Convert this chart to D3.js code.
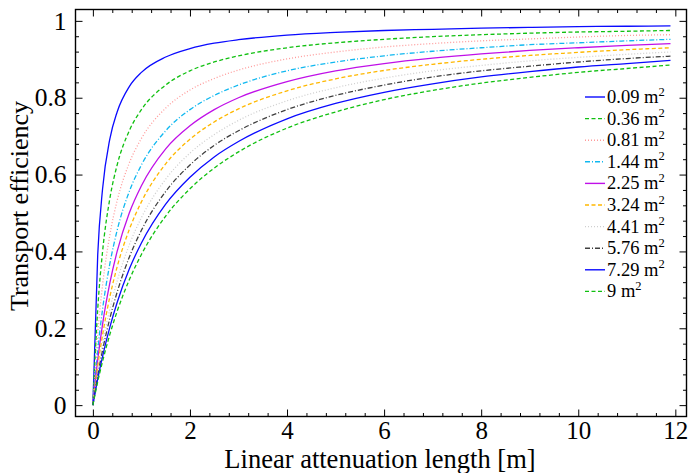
<!DOCTYPE html>
<html>
<head>
<meta charset="utf-8">
<script src="https://cdn.jsdelivr.net/npm/d3@7"></script>
<style>
  body { margin: 0; background: #fff; }
  svg { display: block; font-family: 'Liberation Serif', serif; }
</style>
</head>
<body>
<div id="chart"></div>
<script>
// attenuation lengths [m] (x) and detector areas [m^2]
const lengths = [0, 0.1, 0.2, 0.35, 0.5, 0.75, 1, 1.5, 2, 2.5, 3, 4, 5, 6, 7, 8, 9, 10, 11, 11.9];
const areas = ['0.09', '0.36', '0.81', '1.44', '2.25', '3.24', '4.41', '5.76', '7.29', '9'];

// transport efficiency, one array per area
const eff009 = [0, 0.392, 0.563, 0.693, 0.763, 0.829, 0.866, 0.906, 0.928, 0.942, 0.951, 0.963, 0.970, 0.975, 0.978, 0.981, 0.983, 0.985, 0.986, 0.987];
const eff036 = [0, 0.250, 0.400, 0.538, 0.625, 0.714, 0.769, 0.833, 0.870, 0.893, 0.909, 0.930, 0.943, 0.952, 0.959, 0.964, 0.968, 0.971, 0.973, 0.975];
const eff081 = [0, 0.185, 0.313, 0.443, 0.532, 0.630, 0.694, 0.773, 0.820, 0.850, 0.872, 0.901, 0.919, 0.932, 0.941, 0.948, 0.953, 0.958, 0.962, 0.964];
const eff144 = [0, 0.143, 0.250, 0.368, 0.455, 0.556, 0.625, 0.714, 0.769, 0.806, 0.833, 0.870, 0.893, 0.909, 0.921, 0.930, 0.938, 0.943, 0.948, 0.952];
const eff225 = [0, 0.118, 0.211, 0.318, 0.400, 0.500, 0.571, 0.667, 0.727, 0.769, 0.800, 0.842, 0.870, 0.889, 0.903, 0.914, 0.923, 0.930, 0.936, 0.941];
const eff324 = [0, 0.101, 0.183, 0.282, 0.360, 0.457, 0.529, 0.628, 0.692, 0.737, 0.771, 0.818, 0.849, 0.871, 0.887, 0.900, 0.910, 0.918, 0.925, 0.930];
const eff441 = [0, 0.087, 0.160, 0.250, 0.323, 0.417, 0.488, 0.588, 0.656, 0.704, 0.741, 0.792, 0.826, 0.851, 0.870, 0.884, 0.896, 0.905, 0.913, 0.919];
const eff576 = [0, 0.077, 0.143, 0.226, 0.294, 0.385, 0.455, 0.556, 0.625, 0.676, 0.714, 0.769, 0.806, 0.833, 0.854, 0.870, 0.882, 0.893, 0.902, 0.908];
const eff729 = [0, 0.068, 0.127, 0.203, 0.267, 0.354, 0.422, 0.523, 0.593, 0.646, 0.686, 0.745, 0.785, 0.814, 0.836, 0.854, 0.868, 0.880, 0.889, 0.897];
const eff900 = [0, 0.061, 0.114, 0.184, 0.244, 0.326, 0.392, 0.492, 0.563, 0.617, 0.659, 0.721, 0.763, 0.795, 0.819, 0.838, 0.853, 0.866, 0.876, 0.885];

const xTicks = [0, 2, 4, 6, 8, 10, 12];
const yTicks = [0, 0.2, 0.4, 0.6, 0.8, 1];

const series = [eff009, eff036, eff081, eff144, eff225, eff324, eff441, eff576, eff729, eff900];

// line styles, same order as areas
const colors = ['#0a0aff', '#10c010', '#ff9a9a', '#10b8f0', '#c010e8', '#ffb800', '#cfcfcf', '#404040', '#0a0aff', '#10c010'];
const dashes = ['none', '4,2.5', '1,2', '5,2,1,2', 'none', '4,2.5', '1,2', '5,2,1,2', 'none', '4,2.5'];

let width = 689;
let height = 473;
let frame = { left: 75.5, right: 686.5, top: 9.5, bottom: 416.5 };

let xScale = d3.scaleLinear().domain([-0.358, 12.23]).range([frame.left, frame.right]);
let yScale = d3.scaleLinear().domain([-0.0296, 1.0296]).range([frame.bottom, frame.top]);

let svg = d3.select('#chart').append('svg').attr('width', width).attr('height', height);

// curves
let line = d3.line()
  .x((d, i) => xScale(lengths[i]))
  .y((d) => yScale(d))
  .curve(d3.curveMonotoneX);

svg.append('g')
  .attr('id', 'curves')
  .selectAll('path')
  .data(series)
  .enter()
  .append('path')
  .attr('d', line)
  .attr('fill', 'none')
  .attr('stroke', (d, i) => colors[i])
  .attr('stroke-width', 1.3)
  .attr('stroke-dasharray', (d, i) => dashes[i]);

// axes, ticks pointing inwards on all four sides
let xMinor = d3.range(0, 12.01, 0.4).filter((v) => Math.abs(v / 2 - Math.round(v / 2)) > 0.01);
let yMinor = d3.range(0, 1.001, 0.04).filter((v) => Math.abs(v / 0.2 - Math.round(v / 0.2)) > 0.01);

function tickOnly(axis) {
  return (g) => {
    g.call(axis);
    g.select('.domain').remove();
    g.selectAll('line').attr('stroke', '#000').attr('stroke-width', 1);
  };
}

svg.append('g')
  .attr('transform', `translate(0, ${frame.bottom})`)
  .call(tickOnly(d3.axisBottom(xScale).tickValues(xTicks).tickSize(-7).tickPadding(5).tickFormat(d3.format('d'))))
  .call((g) => g.selectAll('text').attr('font-size', 25).attr('fill', '#000').attr('font-family', 'Liberation Serif'));
svg.append('g')
  .attr('transform', `translate(0, ${frame.bottom})`)
  .call(tickOnly(d3.axisBottom(xScale).tickValues(xMinor).tickSize(-3.5).tickFormat('')));
svg.append('g')
  .attr('transform', `translate(0, ${frame.top})`)
  .call(tickOnly(d3.axisTop(xScale).tickValues(xTicks).tickSize(-7).tickFormat('')));
svg.append('g')
  .attr('transform', `translate(0, ${frame.top})`)
  .call(tickOnly(d3.axisTop(xScale).tickValues(xMinor).tickSize(-3.5).tickFormat('')));

svg.append('g')
  .attr('transform', `translate(${frame.left}, 0)`)
  .call(tickOnly(d3.axisLeft(yScale).tickValues(yTicks).tickSize(-7).tickPadding(9).tickFormat((d) => (d === 0 || d === 1 ? d : d.toFixed(1)))))
  .call((g) => g.selectAll('text').attr('font-size', 25.5).attr('fill', '#000').attr('font-family', 'Liberation Serif'));
svg.append('g')
  .attr('transform', `translate(${frame.left}, 0)`)
  .call(tickOnly(d3.axisLeft(yScale).tickValues(yMinor).tickSize(-3.5).tickFormat('')));
svg.append('g')
  .attr('transform', `translate(${frame.right}, 0)`)
  .call(tickOnly(d3.axisRight(yScale).tickValues(yTicks).tickSize(-7).tickFormat('')));
svg.append('g')
  .attr('transform', `translate(${frame.right}, 0)`)
  .call(tickOnly(d3.axisRight(yScale).tickValues(yMinor).tickSize(-3.5).tickFormat('')));

// frame
svg.append('rect')
  .attr('x', frame.left)
  .attr('y', frame.top)
  .attr('width', frame.right - frame.left)
  .attr('height', frame.bottom - frame.top)
  .attr('fill', 'none')
  .attr('stroke', '#000')
  .attr('stroke-width', 1.4);

// axis labels
svg.append('text')
  .attr('x', 380)
  .attr('y', 468)
  .attr('text-anchor', 'middle')
  .attr('font-size', 26.5)
  .text('Linear attenuation length [m]');
svg.append('text')
  .attr('transform', `translate(28, 206) rotate(-90)`)
  .attr('text-anchor', 'middle')
  .attr('font-size', 26)
  .text('Transport efficiency');

// legend
let legend = svg.append('g').attr('id', 'legend').attr('transform', 'translate(585, 97)');
let rows = legend.selectAll('g')
  .data(areas)
  .enter()
  .append('g')
  .attr('transform', (d, i) => `translate(0, ${i * 21.6})`);
rows.append('line')
  .attr('x1', 0)
  .attr('x2', 20)
  .attr('stroke', (d, i) => colors[i])
  .attr('stroke-width', 1.4)
  .attr('stroke-dasharray', (d, i) => dashes[i]);
let labels = rows.append('text')
  .attr('x', 22)
  .attr('y', 6)
  .attr('font-size', 18.5);
labels.append('tspan').text((d) => `${d} m`);
labels.append('tspan').attr('dy', -7.5).attr('font-size', 12.5).text('2');
</script>
</body>
</html>
